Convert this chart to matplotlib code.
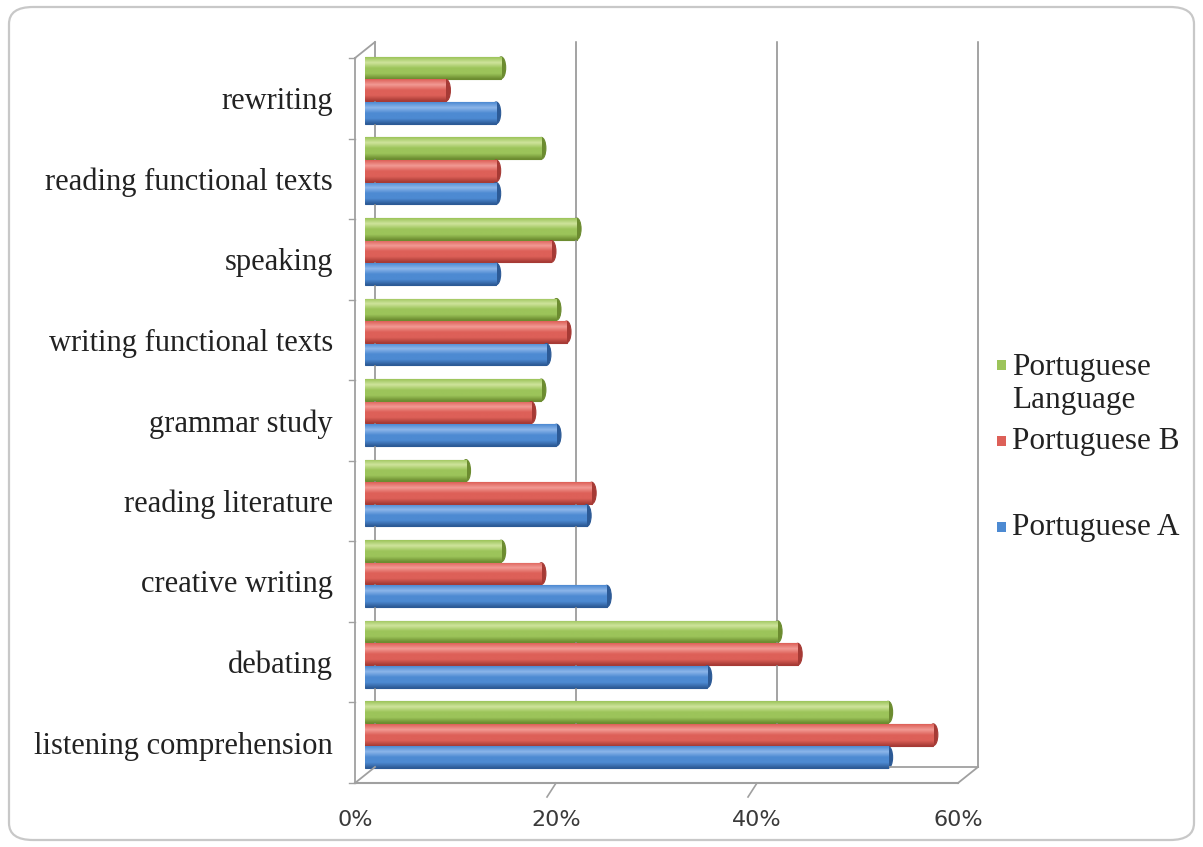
import numpy as np
import matplotlib.pyplot as plt
from matplotlib.colors import LinearSegmentedColormap
from matplotlib.patches import FancyBboxPatch, Rectangle, Ellipse
from matplotlib.transforms import offset_copy

# Activities, bottom to top
categories = [
    "listening comprehension",
    "debating",
    "creative writing",
    "reading literature",
    "grammar study",
    "writing functional texts",
    "speaking",
    "reading functional texts",
    "rewriting",
]

# Share of students (%) per programme
portuguese_a = [52.5, 34.5, 24.5, 22.5, 19.5, 18.5, 13.5, 13.5, 13.5]
portuguese_b = [57.0, 43.5, 18.0, 23.0, 17.0, 20.5, 19.0, 13.5, 8.5]
portuguese_lang = [52.5, 41.5, 14.0, 10.5, 18.0, 19.5, 21.5, 18.0, 14.0]

x_ticks = [0, 20, 40, 60]

series = [
    ("Portuguese A", portuguese_a, -0.28, ("#2c5a96", "#4d8ad2", "#8db6ea")),
    ("Portuguese B", portuguese_b, 0.0, ("#a63a35", "#dd6058", "#f29a94")),
    ("Portuguese Language", portuguese_lang, 0.28, ("#6c8c30", "#9cc45a", "#cfe49c")),
]

W, H = 1203, 847
fig = plt.figure(figsize=(W / 100, H / 100), dpi=100)
fig.patch.set_facecolor("white")

# rounded chart border
fig.patches.append(FancyBboxPatch((9 / W, 7 / H), 1185 / W, 833 / H,
                                  boxstyle="round,pad=0,rounding_size=0.02",
                                  transform=fig.transFigure, fill=False,
                                  edgecolor="#c8c8c8", linewidth=1.6))

ax = fig.add_axes([365 / W, (H - 775) / H, 603 / W, 725 / H])
ax.set_xlim(0, 60)
ax.set_ylim(-0.5, len(categories) - 0.5)
ax.axis("off")

# front and back planes of the pseudo-3D box
front = offset_copy(ax.transData, fig=fig, x=-10, y=-8, units="dots")
back = offset_copy(ax.transData, fig=fig, x=10, y=8, units="dots")
top = len(categories) - 0.5
wall = "#a0a0a0"

# back wall gridlines
for t in x_ticks:
    ax.plot([t, t], [-0.5, top], color="#8a8a8a", lw=1.1, transform=back, clip_on=False)
# floor
ax.plot([0, 60], [-0.5, -0.5], color=wall, lw=1.3, transform=back, clip_on=False)
ax.plot([0, 60], [-0.5, -0.5], color=wall, lw=1.5, transform=front, clip_on=False)
# left wall front edge
ax.plot([0, 0], [-0.5, top], color=wall, lw=1.3, transform=front, clip_on=False)
# connecting edges (front -> back)
for (x0, y0) in [(0, top), (0, -0.5), (60, -0.5)]:
    p1 = front.transform((x0, y0))
    p2 = back.transform((x0, y0))
    fig.add_artist(plt.Line2D([p1[0] / W, p2[0] / W], [p1[1] / H, p2[1] / H],
                              color=wall, lw=1.3, transform=fig.transFigure))
# diagonal x tick marks under the floor
for t in x_ticks[1:-1]:
    p1 = front.transform((t, -0.5))
    fig.add_artist(plt.Line2D([p1[0] / W, (p1[0] - 9) / W], [p1[1] / H, (p1[1] - 14) / H],
                              color=wall, lw=1.2, transform=fig.transFigure))
# left tick marks between groups
for k in range(len(categories) + 1):
    ax.plot([-0.6, 0], [k - 0.5, k - 0.5], color=wall, lw=1.0, transform=front, clip_on=False)

# bars with cylinder-like shading and rounded end caps
y = np.arange(len(categories))
bar_h = 0.27
cap_w = 0.9
grad = np.linspace(0, 1, 64).reshape(-1, 1)
for name, vals, off, cols in series:
    cmap = LinearSegmentedColormap.from_list(name, [cols[0], cols[1], cols[1], cols[2], cols[1]])
    body = [v - cap_w / 2 for v in vals]
    bars = ax.barh(y + off, body, height=bar_h, color=cols[1], edgecolor=cols[0], linewidth=0.8)
    for b, v in zip(bars, vals):
        x0, y0 = b.get_x(), b.get_y()
        ax.add_patch(Ellipse((v - cap_w / 2, y0 + bar_h / 2), cap_w, bar_h, facecolor=cols[0],
                             edgecolor=cols[0], linewidth=0.8, zorder=1.5))
        im = ax.imshow(grad, extent=[x0, x0 + b.get_width(), y0, y0 + b.get_height()],
                       origin="lower", cmap=cmap, aspect="auto", zorder=2)
        im.set_clip_path(b)
ax.set_xlim(0, 60)
ax.set_ylim(-0.5, top)

# category labels
for i, c in enumerate(categories):
    ax.text(-3.2, i - 0.14, c, ha="right", va="center", fontsize=22,
            family="Liberation Serif", color="#222222", clip_on=False)

# x tick labels
for t in x_ticks:
    ax.text(t - 1, -1.06, f"{t}%", ha="center", va="center", fontsize=16,
            family="DejaVu Sans", color="#3a3a3a", clip_on=False)

# legend
legend_items = [
    (365, 384, "#9cc45a", "Portuguese\nLanguage"),
    (441, 441, "#dd6058", "Portuguese B"),
    (527, 527, "#4d8ad2", "Portuguese A"),
]
for ys, yt, col, label in legend_items:
    fig.patches.append(Rectangle((997 / W, (H - ys - 5) / H), 9 / W, 10 / H,
                                 transform=fig.transFigure, facecolor=col, edgecolor="none"))
    fig.text(1012 / W, (H - yt) / H, label, ha="left", va="center",
             fontsize=22.5, family="Liberation Serif", color="#222222", linespacing=1.18)

fig.savefig("out.png", dpi=100)
